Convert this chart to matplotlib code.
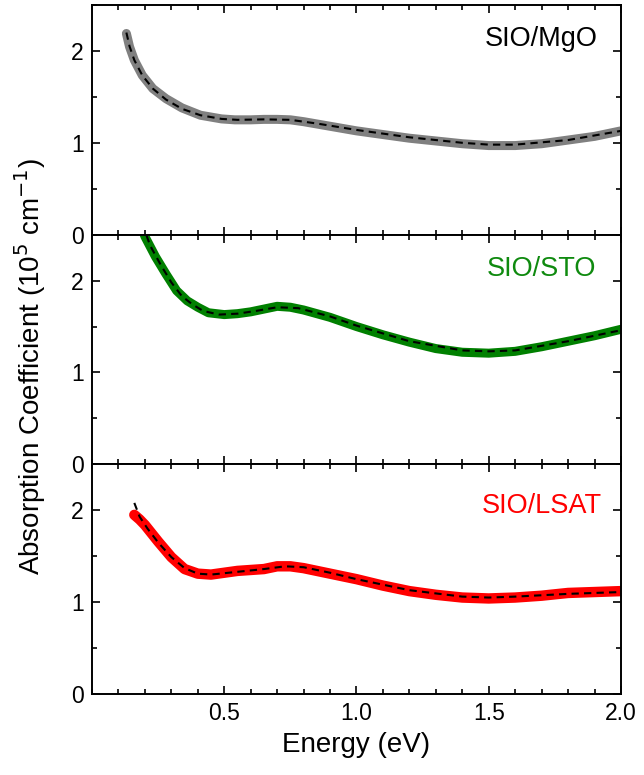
import matplotlib
matplotlib.use('Agg')
import matplotlib.pyplot as plt
from matplotlib.ticker import MultipleLocator, FixedLocator

plt.rcParams['font.family'] = ['Liberation Sans', 'DejaVu Sans']

# --- data (energy in eV, absorption in 1e5 cm^-1) ---
mgo_e = [0.13, 0.142, 0.16, 0.19, 0.23, 0.28, 0.34, 0.41, 0.49, 0.54,
         0.60, 0.65, 0.70, 0.75, 0.80, 0.90, 1.00, 1.10, 1.20, 1.30, 1.40, 1.50,
         1.60, 1.70, 1.80, 1.90, 2.00]
mgo_a = [2.19, 2.045, 1.90, 1.735, 1.59, 1.48, 1.38, 1.30, 1.26, 1.25,
         1.25, 1.255, 1.255, 1.25, 1.23, 1.18, 1.13, 1.09, 1.05, 1.02, 0.99, 0.97,
         0.97, 0.99, 1.03, 1.07, 1.13]
mgo_fit_e = [0.13, 0.142, 0.16, 0.19, 0.23, 0.28, 0.34, 0.41, 0.49, 0.55, 0.65,
             0.75, 0.85, 1.00, 1.20, 1.40, 1.50, 1.60, 1.80, 2.00]
mgo_fit_a = [2.20, 2.05, 1.90, 1.735, 1.59, 1.47, 1.37, 1.30, 1.26, 1.25, 1.255,
             1.25, 1.21, 1.14, 1.06, 1.00, 0.98, 0.98, 1.03, 1.13]

sto_e = [0.18, 0.20, 0.24, 0.28, 0.32, 0.36, 0.40, 0.44, 0.50, 0.55, 0.60, 0.65,
         0.70, 0.75, 0.80, 0.90, 1.00, 1.10, 1.20, 1.30, 1.40, 1.50, 1.60, 1.70,
         1.80, 1.90, 2.00]
sto_a = [2.65, 2.48, 2.26, 2.07, 1.89, 1.78, 1.71, 1.65, 1.63, 1.64, 1.66, 1.69,
         1.72, 1.71, 1.68, 1.60, 1.50, 1.41, 1.33, 1.26, 1.22, 1.21, 1.23, 1.28,
         1.34, 1.40, 1.47]
sto_fit_e = [0.19, 0.22, 0.26, 0.30, 0.34, 0.38, 0.42, 0.48, 0.55, 0.62, 0.70, 0.78,
             0.90, 1.00, 1.20, 1.40, 1.50, 1.60, 1.80, 2.00]
sto_fit_a = [2.62, 2.38, 2.17, 1.98, 1.83, 1.74, 1.67, 1.63, 1.64, 1.67, 1.71, 1.70,
             1.61, 1.51, 1.34, 1.24, 1.23, 1.24, 1.34, 1.46]

lsat_e = [0.16, 0.18, 0.20, 0.25, 0.30, 0.35, 0.40, 0.45, 0.50, 0.55, 0.60, 0.65,
          0.70, 0.75, 0.80, 0.90, 1.00, 1.10, 1.20, 1.30, 1.40, 1.50, 1.60, 1.70,
          1.80, 1.90, 2.00]
lsat_a = [1.95, 1.90, 1.84, 1.66, 1.49, 1.36, 1.31, 1.30, 1.32, 1.34, 1.35, 1.36,
          1.39, 1.39, 1.37, 1.31, 1.25, 1.18, 1.12, 1.08, 1.05, 1.04, 1.05, 1.07,
          1.10, 1.11, 1.12]
lsat_fit_e = [0.16, 0.18, 0.21, 0.25, 0.30, 0.35, 0.40, 0.45, 0.55, 0.65, 0.73,
              0.80, 0.90, 1.00, 1.20, 1.40, 1.50, 1.60, 1.80, 2.00]
lsat_fit_a = [2.08, 1.93, 1.80, 1.65, 1.49, 1.37, 1.31, 1.30, 1.33, 1.36, 1.39,
              1.38, 1.32, 1.25, 1.13, 1.06, 1.05, 1.06, 1.09, 1.11]

panels = [
    ('SIO/MgO', mgo_e, mgo_a, mgo_fit_e, mgo_fit_a, '#808080', 'black', 6.5),
    ('SIO/STO', sto_e, sto_a, sto_fit_e, sto_fit_a, '#008000', '#0f8a0f', 6.5),
    ('SIO/LSAT', lsat_e, lsat_a, lsat_fit_e, lsat_fit_a, '#ff0000', '#ff0000', 7.5),
]

fig = plt.figure(figsize=(6.44, 7.75), dpi=100)
left, right = 92 / 644, 621 / 644
top, bottom = 1 - 5 / 775, 1 - 694 / 775
h = (top - bottom) / 3

for i, (name, e, a, fe, fa, col, tcol, lw) in enumerate(panels):
    ax = fig.add_axes([left, top - (i + 1) * h, right - left, h])
    ax.plot(e, a, color=col, lw=lw, solid_capstyle='round', solid_joinstyle='round')
    ax.plot(fe, fa, color='black', lw=1.5, dashes=(3.5, 2.5))
    ax.set_xlim(0, 2.0)
    ax.set_ylim(0, 2.5)
    ax.xaxis.set_major_locator(FixedLocator([0.5, 1.0, 1.5, 2.0]))
    ax.xaxis.set_minor_locator(MultipleLocator(0.1))
    ax.yaxis.set_major_locator(FixedLocator([0, 1, 2]))
    ax.yaxis.set_minor_locator(MultipleLocator(0.5))
    ax.tick_params(which='both', direction='in', top=True, right=True,
                   width=1.2, labelsize=16.5, pad=6)
    ax.tick_params(which='major', length=6)
    ax.tick_params(which='minor', length=3.5)
    for s in ax.spines.values():
        s.set_linewidth(1.4)
    if i < 2:
        ax.tick_params(labelbottom=False)
    else:
        ax.set_xlabel('Energy (eV)', fontsize=20, labelpad=5)
    ax.text(0.85, 0.85 if i < 2 else 0.82, name, transform=ax.transAxes,
            ha='center', va='center', fontsize=19.5, color=tcol)

fig.text(30 / 644, 1 - 367 / 775, 'Absorption Coefficient (10$^5$ cm$^{-1}$)',
         rotation=90, ha='center', va='center', fontsize=20)

fig.savefig('out.png', dpi=100)
